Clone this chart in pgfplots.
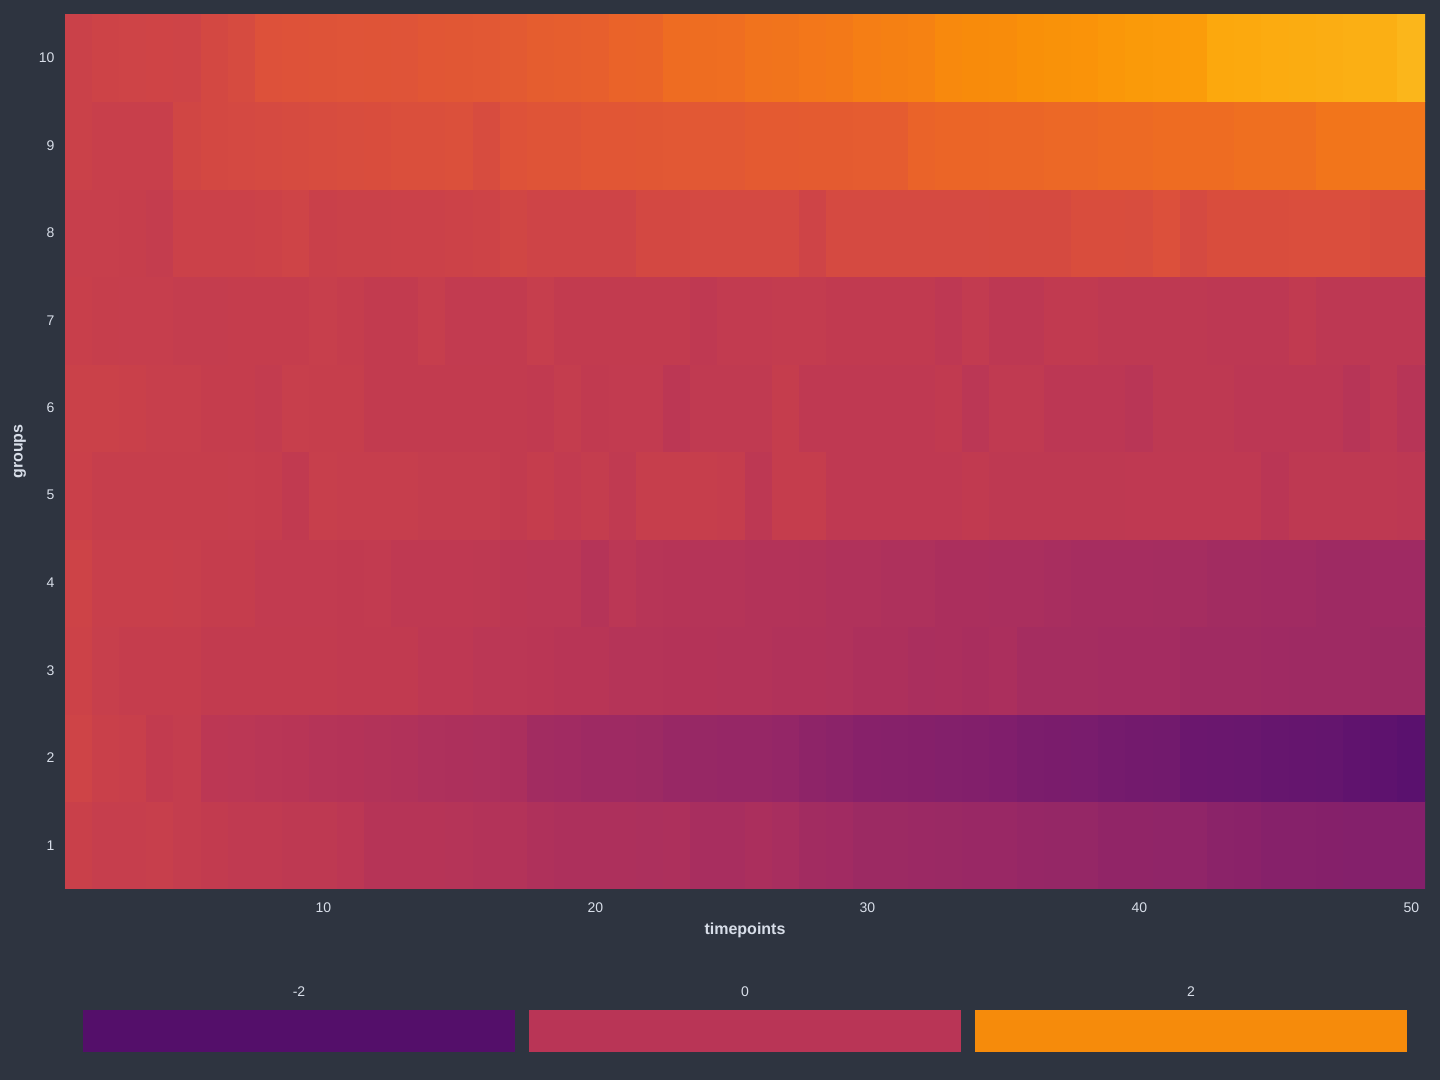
\documentclass[border=0pt]{standalone}
\usepackage{fontspec}
\setmainfont{Liberation Sans}
\usepackage{pgfplots}
\pgfplotsset{compat=1.18}
\definecolor{bg}{HTML}{2E3440}
\definecolor{fg}{HTML}{D8DEE9}
\definecolor{swneg}{HTML}{540F6A}
\definecolor{swmid}{HTML}{B93556}
\definecolor{swpos}{HTML}{F68B0B}

\pgfplotsset{
  colormap={inferno}{
    rgb255=(0,0,4) rgb255=(10,7,34) rgb255=(22,11,57) rgb255=(40,11,84)
    rgb255=(66,10,104) rgb255=(87,16,110) rgb255=(106,23,110) rgb255=(127,30,108)
    rgb255=(147,38,103) rgb255=(168,46,95) rgb255=(188,55,84) rgb255=(204,66,72)
    rgb255=(221,81,58) rgb255=(233,98,42) rgb255=(243,120,25) rgb255=(249,142,9)
    rgb255=(252,165,10) rgb255=(250,193,39) rgb255=(246,215,70) rgb255=(243,236,119)
    rgb255=(252,255,164)
  },
}

\begin{document}
\begin{tikzpicture}
\useasboundingbox (0,0) rectangle (720pt,540pt);
\fill[bg] (0,0) rectangle (720pt,540pt);

\begin{axis}[
    at={(32.5pt,95.5pt)}, anchor=south west,
    width=680pt, height=437.5pt, scale only axis,
    xmin=0.5, xmax=50.5, ymin=0.5, ymax=10.5,
    enlargelimits=false,
    axis line style={draw=none},
    tick style={draw=none},
    xtick={10,20,30,40,50},
    ytick={1,2,3,4,5,6,7,8,9,10},
    /pgf/number format/assume math mode=true,
    tick label style={font=\fontsize{7}{8}\selectfont, color=fg},
    xticklabel style={yshift=-3.5pt},
    yticklabel style={xshift=-1.8pt},
    xlabel={timepoints}, ylabel={groups},
    label style={font=\bfseries\fontsize{8}{9.6}\selectfont, color=fg},
    xlabel style={at={(axis description cs:0.5,0)}, anchor=center, yshift=-20.5pt},
    ylabel style={at={(axis description cs:-0.0331,0.5)}, anchor=center},
    colormap name=inferno,
    point meta min=-4, point meta max=4,
]
\addplot[matrix plot*, mesh/cols=50, point meta=explicit] coordinates {
(1,1)[0.32] (2,1)[0.24] (3,1)[0.24] (4,1)[0.28] (5,1)[0.20] (6,1)[0.16] (7,1)[0.10] (8,1)[0.10] (9,1)[0.06] (10,1)[0.06]
(11,1)[0.00] (12,1)[-0.12] (13,1)[-0.12] (14,1)[-0.12] (15,1)[-0.14] (16,1)[-0.18] (17,1)[-0.18] (18,1)[-0.26] (19,1)[-0.30] (20,1)[-0.30]
(21,1)[-0.30] (22,1)[-0.32] (23,1)[-0.30] (24,1)[-0.40] (25,1)[-0.40] (26,1)[-0.34] (27,1)[-0.40] (28,1)[-0.52] (29,1)[-0.54] (30,1)[-0.62]
(31,1)[-0.62] (32,1)[-0.64] (33,1)[-0.66] (34,1)[-0.68] (35,1)[-0.68] (36,1)[-0.74] (37,1)[-0.76] (38,1)[-0.76] (39,1)[-0.84] (40,1)[-0.84]
(41,1)[-0.86] (42,1)[-0.86] (43,1)[-0.96] (44,1)[-0.98] (45,1)[-1.06] (46,1)[-1.06] (47,1)[-1.08] (48,1)[-1.10] (49,1)[-1.10] (50,1)[-1.10]
(1,2)[0.44] (2,2)[0.32] (3,2)[0.30] (4,2)[0.15] (5,2)[0.20] (6,2)[0.00] (7,2)[-0.02] (8,2)[-0.06] (9,2)[-0.08] (10,2)[-0.14]
(11,2)[-0.16] (12,2)[-0.20] (13,2)[-0.22] (14,2)[-0.28] (15,2)[-0.30] (16,2)[-0.32] (17,2)[-0.34] (18,2)[-0.51] (19,2)[-0.54] (20,2)[-0.59]
(21,2)[-0.60] (22,2)[-0.62] (23,2)[-0.70] (24,2)[-0.72] (25,2)[-0.74] (26,2)[-0.74] (27,2)[-0.78] (28,2)[-0.90] (29,2)[-0.96] (30,2)[-1.04]
(31,2)[-1.06] (32,2)[-1.08] (33,2)[-1.12] (34,2)[-1.14] (35,2)[-1.18] (36,2)[-1.28] (37,2)[-1.30] (38,2)[-1.32] (39,2)[-1.40] (40,2)[-1.42]
(41,2)[-1.44] (42,2)[-1.58] (43,2)[-1.60] (44,2)[-1.62] (45,2)[-1.68] (46,2)[-1.70] (47,2)[-1.72] (48,2)[-1.82] (49,2)[-1.86] (50,2)[-1.94]
(1,3)[0.40] (2,3)[0.28] (3,3)[0.22] (4,3)[0.22] (5,3)[0.22] (6,3)[0.16] (7,3)[0.16] (8,3)[0.16] (9,3)[0.16] (10,3)[0.16]
(11,3)[0.12] (12,3)[0.12] (13,3)[0.12] (14,3)[0.04] (15,3)[0.04] (16,3)[-0.02] (17,3)[-0.02] (18,3)[-0.04] (19,3)[-0.08] (20,3)[-0.08]
(21,3)[-0.14] (22,3)[-0.14] (23,3)[-0.16] (24,3)[-0.16] (25,3)[-0.18] (26,3)[-0.18] (27,3)[-0.22] (28,3)[-0.22] (29,3)[-0.24] (30,3)[-0.30]
(31,3)[-0.30] (32,3)[-0.36] (33,3)[-0.34] (34,3)[-0.38] (35,3)[-0.34] (36,3)[-0.46] (37,3)[-0.46] (38,3)[-0.46] (39,3)[-0.48] (40,3)[-0.48]
(41,3)[-0.48] (42,3)[-0.56] (43,3)[-0.56] (44,3)[-0.56] (45,3)[-0.58] (46,3)[-0.60] (47,3)[-0.60] (48,3)[-0.60] (49,3)[-0.62] (50,3)[-0.62]
(1,4)[0.42] (2,4)[0.30] (3,4)[0.30] (4,4)[0.30] (5,4)[0.28] (6,4)[0.22] (7,4)[0.22] (8,4)[0.14] (9,4)[0.14] (10,4)[0.14]
(11,4)[0.12] (12,4)[0.14] (13,4)[0.08] (14,4)[0.08] (15,4)[0.08] (16,4)[0.06] (17,4)[0.00] (18,4)[-0.02] (19,4)[-0.02] (20,4)[-0.14]
(21,4)[-0.02] (22,4)[-0.10] (23,4)[-0.12] (24,4)[-0.14] (25,4)[-0.14] (26,4)[-0.18] (27,4)[-0.18] (28,4)[-0.20] (29,4)[-0.24] (30,4)[-0.24]
(31,4)[-0.28] (32,4)[-0.28] (33,4)[-0.34] (34,4)[-0.34] (35,4)[-0.36] (36,4)[-0.36] (37,4)[-0.40] (38,4)[-0.44] (39,4)[-0.44] (40,4)[-0.44]
(41,4)[-0.46] (42,4)[-0.46] (43,4)[-0.52] (44,4)[-0.52] (45,4)[-0.54] (46,4)[-0.54] (47,4)[-0.60] (48,4)[-0.60] (49,4)[-0.58] (50,4)[-0.58]
(1,5)[0.34] (2,5)[0.26] (3,5)[0.26] (4,5)[0.26] (5,5)[0.26] (6,5)[0.26] (7,5)[0.24] (8,5)[0.22] (9,5)[0.12] (10,5)[0.28]
(11,5)[0.24] (12,5)[0.24] (13,5)[0.24] (14,5)[0.20] (15,5)[0.20] (16,5)[0.20] (17,5)[0.16] (18,5)[0.22] (19,5)[0.14] (20,5)[0.20]
(21,5)[0.10] (22,5)[0.26] (23,5)[0.26] (24,5)[0.26] (25,5)[0.22] (26,5)[0.02] (27,5)[0.22] (28,5)[0.22] (29,5)[0.08] (30,5)[0.08]
(31,5)[0.08] (32,5)[0.08] (33,5)[0.08] (34,5)[0.12] (35,5)[0.06] (36,5)[0.06] (37,5)[0.06] (38,5)[0.06] (39,5)[0.06] (40,5)[0.08]
(41,5)[0.08] (42,5)[0.08] (43,5)[0.08] (44,5)[0.08] (45,5)[-0.04] (46,5)[0.06] (47,5)[0.06] (48,5)[0.06] (49,5)[0.06] (50,5)[0.02]
(1,6)[0.36] (2,6)[0.36] (3,6)[0.32] (4,6)[0.28] (5,6)[0.28] (6,6)[0.22] (7,6)[0.22] (8,6)[0.18] (9,6)[0.28] (10,6)[0.26]
(11,6)[0.26] (12,6)[0.16] (13,6)[0.16] (14,6)[0.16] (15,6)[0.16] (16,6)[0.16] (17,6)[0.16] (18,6)[0.12] (19,6)[0.20] (20,6)[0.12]
(21,6)[0.14] (22,6)[0.14] (23,6)[0.00] (24,6)[0.10] (25,6)[0.10] (26,6)[0.10] (27,6)[0.22] (28,6)[0.08] (29,6)[0.08] (30,6)[0.08]
(31,6)[0.08] (32,6)[0.08] (33,6)[0.12] (34,6)[-0.02] (35,6)[0.10] (36,6)[0.10] (37,6)[0.00] (38,6)[0.00] (39,6)[0.00] (40,6)[-0.06]
(41,6)[0.06] (42,6)[0.06] (43,6)[0.06] (44,6)[0.00] (45,6)[0.00] (46,6)[0.00] (47,6)[0.00] (48,6)[-0.10] (49,6)[0.02] (50,6)[-0.10]
(1,7)[0.30] (2,7)[0.26] (3,7)[0.24] (4,7)[0.24] (5,7)[0.20] (6,7)[0.20] (7,7)[0.22] (8,7)[0.22] (9,7)[0.22] (10,7)[0.28]
(11,7)[0.22] (12,7)[0.16] (13,7)[0.16] (14,7)[0.24] (15,7)[0.14] (16,7)[0.14] (17,7)[0.16] (18,7)[0.24] (19,7)[0.16] (20,7)[0.16]
(21,7)[0.16] (22,7)[0.16] (23,7)[0.16] (24,7)[0.08] (25,7)[0.14] (26,7)[0.14] (27,7)[0.18] (28,7)[0.18] (29,7)[0.12] (30,7)[0.12]
(31,7)[0.12] (32,7)[0.12] (33,7)[0.04] (34,7)[0.14] (35,7)[0.02] (36,7)[0.02] (37,7)[0.12] (38,7)[0.12] (39,7)[0.06] (40,7)[0.06]
(41,7)[0.06] (42,7)[0.06] (43,7)[0.02] (44,7)[0.02] (45,7)[0.02] (46,7)[0.12] (47,7)[0.02] (48,7)[0.02] (49,7)[0.02] (50,7)[0.02]
(1,8)[0.28] (2,8)[0.28] (3,8)[0.26] (4,8)[0.20] (5,8)[0.38] (6,8)[0.38] (7,8)[0.38] (8,8)[0.40] (9,8)[0.44] (10,8)[0.32]
(11,8)[0.36] (12,8)[0.36] (13,8)[0.38] (14,8)[0.38] (15,8)[0.40] (16,8)[0.42] (17,8)[0.50] (18,8)[0.44] (19,8)[0.44] (20,8)[0.44]
(21,8)[0.44] (22,8)[0.56] (23,8)[0.56] (24,8)[0.58] (25,8)[0.58] (26,8)[0.58] (27,8)[0.58] (28,8)[0.44] (29,8)[0.60] (30,8)[0.60]
(31,8)[0.60] (32,8)[0.60] (33,8)[0.60] (34,8)[0.60] (35,8)[0.62] (36,8)[0.62] (37,8)[0.62] (38,8)[0.70] (39,8)[0.70] (40,8)[0.68]
(41,8)[0.78] (42,8)[0.60] (43,8)[0.70] (44,8)[0.70] (45,8)[0.70] (46,8)[0.72] (47,8)[0.72] (48,8)[0.72] (49,8)[0.66] (50,8)[0.66]
(1,9)[0.36] (2,9)[0.30] (3,9)[0.30] (4,9)[0.30] (5,9)[0.50] (6,9)[0.56] (7,9)[0.58] (8,9)[0.60] (9,9)[0.64] (10,9)[0.66]
(11,9)[0.68] (12,9)[0.70] (13,9)[0.74] (14,9)[0.74] (15,9)[0.76] (16,9)[0.66] (17,9)[0.82] (18,9)[0.88] (19,9)[0.88] (20,9)[0.92]
(21,9)[0.92] (22,9)[0.94] (23,9)[0.96] (24,9)[0.96] (25,9)[0.96] (26,9)[1.02] (27,9)[1.02] (28,9)[1.04] (29,9)[1.04] (30,9)[1.06]
(31,9)[1.06] (32,9)[1.22] (33,9)[1.26] (34,9)[1.26] (35,9)[1.28] (36,9)[1.28] (37,9)[1.30] (38,9)[1.30] (39,9)[1.34] (40,9)[1.34]
(41,9)[1.38] (42,9)[1.38] (43,9)[1.38] (44,9)[1.44] (45,9)[1.44] (46,9)[1.44] (47,9)[1.54] (48,9)[1.54] (49,9)[1.56] (50,9)[1.56]
(1,10)[0.36] (2,10)[0.42] (3,10)[0.44] (4,10)[0.46] (5,10)[0.44] (6,10)[0.56] (7,10)[0.64] (8,10)[0.80] (9,10)[0.82] (10,10)[0.84]
(11,10)[0.86] (12,10)[0.88] (13,10)[0.86] (14,10)[0.92] (15,10)[0.94] (16,10)[0.96] (17,10)[1.00] (18,10)[1.08] (19,10)[1.10] (20,10)[1.12]
(21,10)[1.22] (22,10)[1.24] (23,10)[1.38] (24,10)[1.40] (25,10)[1.42] (26,10)[1.50] (27,10)[1.52] (28,10)[1.58] (29,10)[1.62] (30,10)[1.70]
(31,10)[1.74] (32,10)[1.78] (33,10)[1.90] (34,10)[1.94] (35,10)[1.96] (36,10)[2.04] (37,10)[2.06] (38,10)[2.08] (39,10)[2.16] (40,10)[2.20]
(41,10)[2.22] (42,10)[2.24] (43,10)[2.44] (44,10)[2.46] (45,10)[2.48] (46,10)[2.50] (47,10)[2.52] (48,10)[2.54] (49,10)[2.54] (50,10)[2.64]
};
\end{axis}

% legend swatches
\begin{axis}[
    at={(41.5pt,14pt)}, anchor=south west,
    width=662pt, height=21pt, scale only axis,
    xmin=0, xmax=1324, ymin=0, ymax=1,
    enlargelimits=false,
    axis line style={draw=none},
    tick style={draw=none},
    ytick=\empty,
    xtick={216,662,1108},
    xticklabels={-2,0,2},
    xticklabel pos=upper,
    xticklabel style={font=\fontsize{7}{8}\selectfont, color=fg, yshift=3pt},
]
\addplot[draw=none, fill=swneg] coordinates {(0,0) (432,0) (432,1) (0,1)} -- cycle;
\addplot[draw=none, fill=swmid] coordinates {(446,0) (878,0) (878,1) (446,1)} -- cycle;
\addplot[draw=none, fill=swpos] coordinates {(892,0) (1324,0) (1324,1) (892,1)} -- cycle;
\end{axis}
\end{tikzpicture}
\end{document}
